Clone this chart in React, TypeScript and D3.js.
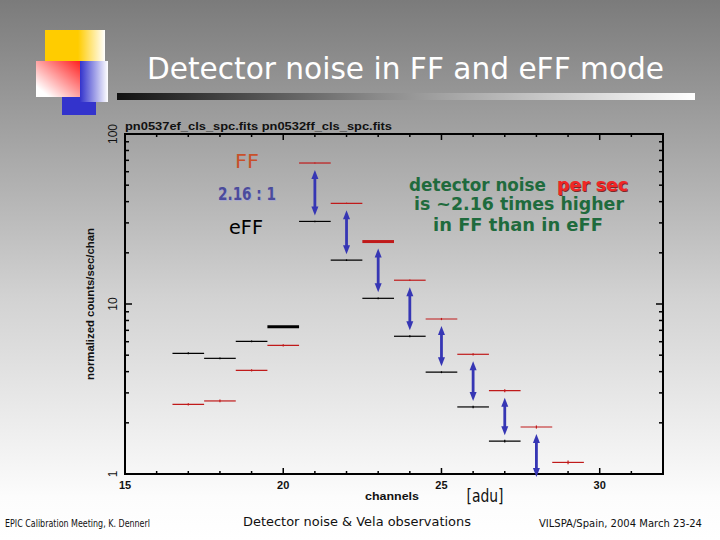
import React from "react";
import * as d3 from "d3";

// ---- data ----
const channels = [17, 18, 19, 20, 21, 22, 23, 24, 25, 26, 27, 28, 29];
const ffRates = [2.57, 2.69, 4.07, 5.71, 67.5, 39.1, 23.3, 13.8, 8.16, 5.06, 3.09, 1.89, 1.17];
const effRates: (number | null)[] = [5.13, 4.79, 6.03, 7.35, 30.6, 18.1, 10.8, 6.46, 3.97, 2.48, 1.56, null, null];
const ffErr = [0.04, 0.05, 0.06, 0.08, 0.5, 0.35, 0.2, 0.15, 0.12, 0.08, 0.06, 0.04, 0.03];
const effErr: (number | null)[] = [0.07, 0.06, 0.07, 0.08, 0.3, 0.2, 0.12, 0.08, 0.05, 0.04, 0.03, null, null];
const arrowChannels = [21, 22, 23, 24, 25, 26, 27, 28];
const emphasisFF = [23];
const emphasisEFF = [20];
const xMajorTicks = [15, 20, 25, 30];
const yMajorTicks = [1, 10, 100];
const yTickLabels = ["1", "10", "100"];

const W = 720, H = 540;

export default function App() {
  const x = d3.scaleLinear().domain([15, 32]).range([125, 663]);
  const y = d3.scaleLog().domain([1, 100]).range([474, 134]);
  const [x0, x1] = x.range();
  const [yb, yt] = y.range();

  const minorX = d3.range(16, 32);
  const minorY: number[] = [];
  [1, 10].forEach((dec) => d3.range(2, 10).forEach((m) => minorY.push(m * dec)));

  const arrowColor = "#3636b4";
  const arrow = (cx: number, ya: number, yb2: number, key: string) => {
    const hl = 9, hw = 3.5;
    return (
      <g key={key}>
        <line x1={cx} x2={cx} y1={ya + hl - 2} y2={yb2 - hl + 2} stroke={arrowColor} strokeWidth={2.8} />
        <path d={`M${cx},${ya} L${cx - hw},${ya + hl} L${cx + hw},${ya + hl} Z`} fill={arrowColor} />
        <path d={`M${cx},${yb2} L${cx - hw},${yb2 - hl} L${cx + hw},${yb2 - hl} Z`} fill={arrowColor} />
      </g>
    );
  };

  const font = "'DejaVu Sans', sans-serif";
  const pix = "'Liberation Sans', 'DejaVu Sans', sans-serif";

  return (
    <svg width={W} height={H} style={{ position: "absolute", left: 0, top: 0 }}>
      <defs>
        <linearGradient id="bg" x1="0" y1="0" x2="0" y2="1">
          <stop offset="0" stopColor="#7b7b7b" />
          <stop offset="0.55" stopColor="#d2d2d2" />
          <stop offset="0.92" stopColor="#fcfcfc" />
          <stop offset="1" stopColor="#ffffff" />
        </linearGradient>
        <linearGradient id="bar" x1="0" y1="0" x2="1" y2="0">
          <stop offset="0" stopColor="#111" />
          <stop offset="0.45" stopColor="#8a8a8a" />
          <stop offset="1" stopColor="#ffffff" />
        </linearGradient>
        <linearGradient id="yel" x1="0" y1="0" x2="1" y2="0">
          <stop offset="0.55" stopColor="#ffcc00" />
          <stop offset="1" stopColor="#ffffff" />
        </linearGradient>
        <linearGradient id="blu" x1="0" y1="0" x2="1" y2="0">
          <stop offset="0" stopColor="#3333cc" />
          <stop offset="1" stopColor="#ffffff" />
        </linearGradient>
        <linearGradient id="red" x1="1" y1="0" x2="0" y2="1">
          <stop offset="0" stopColor="#ff2020" />
          <stop offset="0.85" stopColor="#ffffff" />
        </linearGradient>
      </defs>
      <rect x={0} y={0} width={W} height={H} fill="url(#bg)" />

      {/* decoration */}
      <rect x={45} y={30} width={60} height={31} fill="url(#yel)" />
      <rect x={62} y={80} width={34} height={35} fill="#3333cc" />
      <rect x={80} y={61} width={28} height={41} fill="url(#blu)" />
      <rect x={36} y={61} width={44} height={36} fill="url(#red)" />

      {/* title */}
      <text x={147} y={79} fontFamily={font} fontSize={31} fill="#ffffff" textLength={517} lengthAdjust="spacingAndGlyphs">
        Detector noise in FF and eFF mode
      </text>
      <rect x={117} y={93} width={578} height={7} fill="url(#bar)" />

      {/* plot header */}
      <text x={125} y={130} fontFamily={pix} fontSize={11} fontWeight="bold" fill="#111" textLength={267} lengthAdjust="spacingAndGlyphs">
        pn0537ef_cls_spc.fits pn0532ff_cls_spc.fits
      </text>

      {/* ticks */}
      {minorX.map((v) => {
        const len = xMajorTicks.includes(v) ? 6 : 3;
        return (
          <g key={"xt" + v}>
            <line x1={x(v)} x2={x(v)} y1={yb} y2={yb - len} stroke="#000" strokeWidth={1.5} />
            <line x1={x(v)} x2={x(v)} y1={yt} y2={yt + len} stroke="#000" strokeWidth={1.5} />
          </g>
        );
      })}
      {[...minorY, 10].map((v) => {
        const len = yMajorTicks.includes(v) ? 7 : 4;
        return (
          <g key={"yt" + v}>
            <line x1={x0} x2={x0 + len} y1={y(v)} y2={y(v)} stroke="#000" strokeWidth={1.5} />
            <line x1={x1} x2={x1 - len} y1={y(v)} y2={y(v)} stroke="#000" strokeWidth={1.5} />
          </g>
        );
      })}
      <rect x={x0} y={yt} width={x1 - x0} height={yb - yt} fill="none" stroke="#000" strokeWidth={2} />

      {/* tick labels */}
      {xMajorTicks.map((v) => (
        <text key={"xl" + v} x={x(v)} y={489} textAnchor="middle" fontFamily={pix} fontSize={11} fontWeight="bold" fill="#111">
          {v}
        </text>
      ))}
      {yMajorTicks.map((v, i) => (
        <text key={"yl" + v} transform={`translate(117,${y(v)}) rotate(-90)`} textAnchor="middle" fontFamily={pix} fontSize={12} fill="#111">
          {yTickLabels[i]}
        </text>
      ))}
      <text transform="translate(94,304) rotate(-90)" textAnchor="middle" fontFamily={pix} fontSize={11} fontWeight="bold" fill="#111" textLength={152} lengthAdjust="spacingAndGlyphs">
        normalized counts/sec/chan
      </text>
      <text x={392} y={500} textAnchor="middle" fontFamily={pix} fontSize={10} fontWeight="bold" fill="#111" textLength={54} lengthAdjust="spacingAndGlyphs">
        channels
      </text>
      <text x={485} y={502} textAnchor="middle" fontFamily={font} fontSize={17} fill="#111" textLength={37} lengthAdjust="spacingAndGlyphs">
        [adu]
      </text>

      {/* data: FF (red) and eFF (black) */}
      {channels.map((c, i) => {
        const v = ffRates[i];
        const e = ffErr[i];
        return (
          <g key={"ff" + c}>
            <line x1={x(c - 0.5)} x2={x(c + 0.5)} y1={y(v)} y2={y(v)} stroke="#c01a1a" strokeWidth={emphasisFF.includes(c) ? 3 : 1.2} />
            <line x1={x(c)} x2={x(c)} y1={y(v - e)} y2={y(v + e)} stroke="#c01a1a" strokeWidth={1.2} />
          </g>
        );
      })}
      {channels.map((c, i) => {
        const v = effRates[i];
        const e = effErr[i];
        if (v == null || e == null) return null;
        return (
          <g key={"eff" + c}>
            <line x1={x(c - 0.5)} x2={x(c + 0.5)} y1={y(v)} y2={y(v)} stroke="#000" strokeWidth={emphasisEFF.includes(c) ? 3 : 1.2} />
            <line x1={x(c)} x2={x(c)} y1={y(v - e)} y2={y(v + e)} stroke="#000" strokeWidth={1.2} />
          </g>
        );
      })}

      {/* arrows */}
      {arrowChannels.map((c) => {
        const i = channels.indexOf(c);
        const top = y(ffRates[i]) + 7;
        const ev = effRates[i];
        const bot = ev == null ? yb + 3 : y(ev) - 6;
        return arrow(x(c), top, bot, "ar" + c);
      })}

      {/* annotations */}
      <text x={235} y={168} fontFamily={font} fontSize={20} fill="#c8502a" textLength={24} lengthAdjust="spacingAndGlyphs">FF</text>
      <text x={218} y={200} fontFamily={font} fontSize={17} fontWeight="bold" fill="#a8a8cc" textLength={58} lengthAdjust="spacingAndGlyphs" transform="translate(0.8,0.8)">2.16 : 1</text>
      <text x={218} y={200} fontFamily={font} fontSize={17} fontWeight="bold" fill="#4b4b9b" textLength={58} lengthAdjust="spacingAndGlyphs">2.16 : 1</text>
      <text x={229} y={234} fontFamily={font} fontSize={19} fill="#000" textLength={34} lengthAdjust="spacingAndGlyphs">eFF</text>

      <text x={409} y={191} fontFamily={font} fontSize={17} fontWeight="bold" fill="#1f6b3d" textLength={137} lengthAdjust="spacingAndGlyphs">detector noise</text>
      <text x={558} y={192} fontFamily={font} fontSize={17} fontWeight="bold" fill="#7a2a2a" textLength={71} lengthAdjust="spacingAndGlyphs">per sec</text>
      <text x={557} y={191} fontFamily={font} fontSize={17} fontWeight="bold" fill="#f02626" textLength={71} lengthAdjust="spacingAndGlyphs">per sec</text>
      <text x={414} y={210} fontFamily={font} fontSize={17} fontWeight="bold" fill="#1f6b3d" textLength={210} lengthAdjust="spacingAndGlyphs">is ~2.16 times higher</text>
      <text x={433} y={231} fontFamily={font} fontSize={17} fontWeight="bold" fill="#1f6b3d" textLength={170} lengthAdjust="spacingAndGlyphs">in FF than in eFF</text>

      {/* footer */}
      <text x={5} y={527} fontFamily={font} fontSize={10} fill="#111" textLength={145} lengthAdjust="spacingAndGlyphs">EPIC Calibration Meeting, K. Dennerl</text>
      <text x={243} y={526} fontFamily={font} fontSize={13} fill="#111" textLength={228} lengthAdjust="spacingAndGlyphs">Detector noise &amp; Vela observations</text>
      <text x={539} y={527} fontFamily={font} fontSize={10} fill="#111" textLength={163} lengthAdjust="spacingAndGlyphs">VILSPA/Spain, 2004 March 23-24</text>
    </svg>
  );
}
